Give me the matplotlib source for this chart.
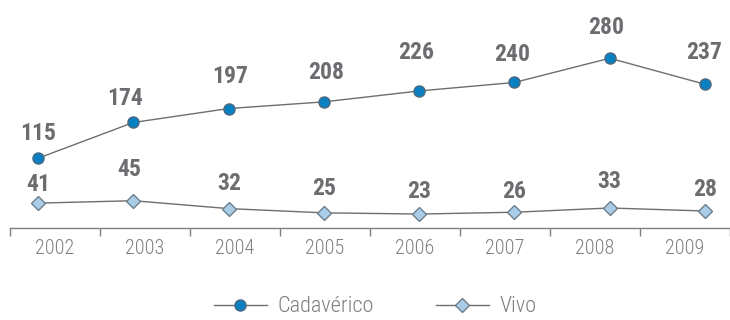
import matplotlib.pyplot as plt
from matplotlib.ticker import FixedLocator, NullFormatter

years = ['2002', '2003', '2004', '2005', '2006', '2007', '2008', '2009']
cadaverico = [115, 174, 197, 208, 226, 240, 280, 237]
vivo = [41, 45, 32, 25, 23, 26, 33, 28]

# label placement above each point, in pixels (dx, dy to baseline)
cad_off = [(0, 18), (-8, 17), (2, 26), (2, 23), (-3, 32), (-2, 21), (-4, 24), (-1, 25)]
vivo_off = [(0, 12), (-4, 25), (1, 19), (0, 18), (0, 16), (0, 14), (0, 20), (0, 15)]

plt.rcParams['font.family'] = ['Roboto Condensed', 'DejaVu Sans']

fig = plt.figure(figsize=(7.3, 3.2), dpi=100)
ax = fig.add_axes([10 / 730, 92 / 320, 720 / 730, 228 / 320])

# category axis: boundaries get tick marks, centres get the year labels
n = len(years)
ax.set_xlim(-0.5, n - 0.5)
ax.set_ylim(0, 376)
ax.xaxis.set_major_locator(FixedLocator(range(n)))
ax.set_xticklabels(years, fontsize=14.5, color='#7f7f7f', fontweight=300)
ax.xaxis.set_minor_locator(FixedLocator([i - 0.5 for i in range(n + 1)]))
ax.xaxis.set_minor_formatter(NullFormatter())
ax.tick_params(axis='x', which='major', length=0, pad=8)
ax.tick_params(axis='x', which='minor', length=6, width=1, color='#7f7f7f')
ax.set_yticks([])
for s in ['top', 'right', 'left']:
    ax.spines[s].set_visible(False)
ax.spines['bottom'].set_color('#7f7f7f')
ax.spines['bottom'].set_linewidth(1)

# series sit on their own x scale, spread a bit wider than the categories
ax2 = ax.twiny()
ax2.set_xlim(-0.294, n - 1 + 0.262)
ax2.set_ylim(0, 376)
ax2.axis('off')
xs = list(range(n))

ax2.plot(xs, cadaverico, color='#6e6e6e', lw=1, marker='o', ms=8,
         mfc='#0a7fc1', mec='#4d6a80', mew=1, label='Cadavérico')
ax2.plot(xs, vivo, color='#6e6e6e', lw=1, marker='D', ms=7,
         mfc='#a9cde9', mec='#6e7f8c', mew=1, label='Vivo')

for x, v, (dx, dy) in zip(xs, cadaverico, cad_off):
    ax2.annotate(str(v), (x, v), xytext=(dx, dy), textcoords='offset pixels',
                 ha='center', va='baseline', fontsize=17, fontweight='bold',
                 color='#6b6d70')
for x, v, (dx, dy) in zip(xs, vivo, vivo_off):
    ax2.annotate(str(v), (x, v), xytext=(dx, dy), textcoords='offset pixels',
                 ha='center', va='baseline', fontsize=17, fontweight='bold',
                 color='#6b6d70')

h, l = ax2.get_legend_handles_labels()
fig.legend(h, l, loc='center', bbox_to_anchor=(0.5 + 10 / 730, 1 - 307 / 320),
           ncol=2, frameon=False, fontsize=16, handlelength=2.4,
           columnspacing=2.8, handletextpad=0.45, labelcolor='#7f7f7f',
           prop={'weight': 300, 'size': 16})

fig.savefig('out.png', dpi=100)
